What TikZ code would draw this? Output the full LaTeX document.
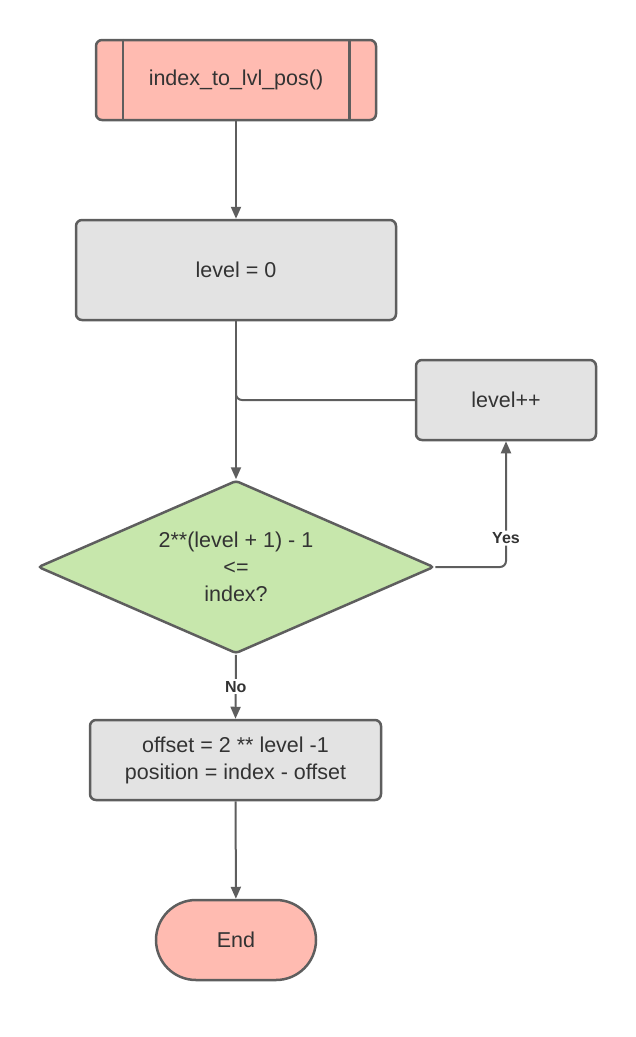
\documentclass[tikz,border=0pt]{standalone}
\usepackage{fontspec}
\setmainfont{Liberation Sans}
\usepackage{tikz}
\usetikzlibrary{positioning, shapes, arrows.meta, calc}
\definecolor{boxpink}{HTML}{FFBBB1}
\definecolor{boxgray}{HTML}{E3E3E3}
\definecolor{boxgreen}{HTML}{C7E7AC}
\definecolor{edgegray}{HTML}{5E5E5E}
\definecolor{txtgray}{HTML}{333333}
\tikzstyle{proc}=[%
      rectangle, rounded corners=6pt, draw=edgegray, line width=2.5pt, fill=boxgray,
      text=txtgray, minimum height=80pt, inner sep=0pt, align=center
]
\tikzstyle{sub}=[%
      proc, fill=boxpink
]
\tikzstyle{dec}=[%
      diamond, aspect=2.3, rounded corners=3pt, draw=edgegray, line width=2.5pt, fill=boxgreen,
      text=txtgray, minimum width=396pt, minimum height=173pt, inner sep=0pt, align=center
]
\tikzstyle{term}=[%
      rounded rectangle, draw=edgegray, line width=2.5pt, fill=boxpink,
      text=txtgray, minimum width=160pt, minimum height=80pt, inner sep=0pt
]
\tikzstyle{lbl}=[%
      fill=white, text=txtgray, font=\fontsize{16}{18}\selectfont\bfseries, inner sep=2pt
]

\begin{document}
\begin{tikzpicture}[x=1pt, y=-1pt,
    font=\fontsize{21.5}{27}\selectfont,
    ->,
    -{Triangle[length=12pt,width=10pt]},
    line width=2pt, draw=edgegray
  ]
    \useasboundingbox (0,0) rectangle (636,1037);

    \node[sub, minimum width=280pt]  (start) at (236,80)    {index\_to\_lvl\_pos()};
    \node[proc, minimum width=320pt, minimum height=100pt] (lvl0) at (236,270) {level = 0};
    \node[proc, minimum width=180pt] (inc)   at (506,400)   {level++};
    \node[dec]                       (cond)  at (236,567)   {2**(level + 1) - 1\\<=\\index?};
    \node[proc, minimum width=291pt] (offs)  at (235.5,760) {offset = 2 ** level -1\\position = index - offset};
    \node[term]                      (stop)  at (236,940)   {End};

    % side bars of the subroutine box
    \draw[-, line width=2.5pt] ([xshift=28pt]start.north west) -- ([xshift=28pt]start.south west);
    \draw[-, line width=2.5pt] ([xshift=-28pt]start.north east) -- ([xshift=-28pt]start.south east);

    \path (start) edge (lvl0)
          (lvl0)  edge (cond)
          (offs)  edge (stop);

    \draw[-, rounded corners=6pt] (inc.west) -| ([yshift=20pt]inc.west -| lvl0.south);
    \draw[rounded corners=6pt] (cond.east) -| node[lbl, pos=0.615] {Yes} (inc.south);
    \draw (cond.south) -- node[lbl] {No} (offs.north);
\end{tikzpicture}
\end{document}
